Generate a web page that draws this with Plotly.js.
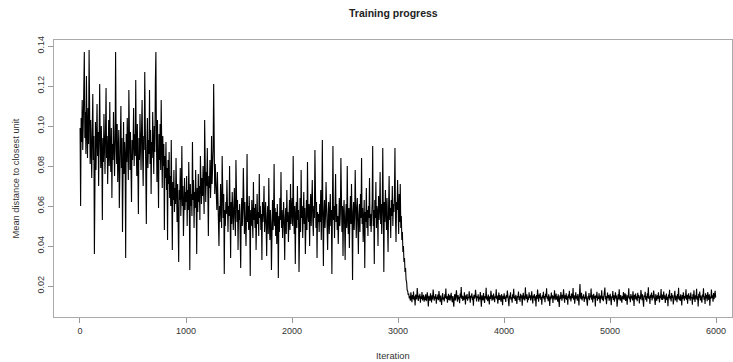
<!DOCTYPE html>
<html>
<head>
<meta charset="utf-8">
<script src="https://cdn.plot.ly/plotly-3.0.1.min.js"></script>
<style>
  html, body { margin: 0; padding: 0; background: #fff; }
  #chart { width: 733px; height: 362px; }
</style>
</head>
<body>
<div id="chart"></div>
<script>
const iterationStart = 1;
const iterationStep = 5;
const meanDistance = [
  // 1 - 246
  0.099, 0.060, 0.104, 0.092, 0.113, 0.088, 0.101, 0.115, 0.137, 0.094, 0.107, 0.086, 0.125, 0.097, 0.084, 0.109, 0.091, 0.138, 0.096, 0.081,
  0.103, 0.088, 0.074, 0.099, 0.116, 0.083, 0.095, 0.036, 0.090, 0.102, 0.078, 0.093, 0.111, 0.085, 0.097, 0.070, 0.089, 0.121, 0.092, 0.079,
  0.100, 0.087, 0.053, 0.094, 0.082, 0.106, 0.091, 0.076, 0.098, 0.119,
  // 251 - 496
  0.084, 0.095, 0.071, 0.090, 0.103, 0.080, 0.112, 0.086, 0.077, 0.099, 0.064, 0.091, 0.083, 0.107, 0.093, 0.075, 0.088, 0.137, 0.095, 0.081,
  0.101, 0.072, 0.087, 0.098, 0.059, 0.090, 0.084, 0.110, 0.079, 0.094, 0.047, 0.089, 0.102, 0.076, 0.092, 0.085, 0.034, 0.096, 0.082, 0.104,
  0.088, 0.073, 0.118, 0.091, 0.078, 0.097, 0.086, 0.062, 0.093, 0.083,
  // 501 - 746
  0.092, 0.109, 0.080, 0.096, 0.085, 0.123, 0.089, 0.075, 0.101, 0.087, 0.056, 0.094, 0.083, 0.106, 0.091, 0.078, 0.099, 0.113, 0.086, 0.070,
  0.095, 0.088, 0.127, 0.082, 0.097, 0.051, 0.090, 0.104, 0.079, 0.093, 0.086, 0.118, 0.081, 0.098, 0.066, 0.092, 0.084, 0.107, 0.089, 0.076,
  0.100, 0.087, 0.122, 0.137, 0.094, 0.072, 0.103, 0.085, 0.059, 0.096,
  // 751 - 996
  0.083, 0.101, 0.078, 0.113, 0.088, 0.069, 0.095, 0.080, 0.091, 0.048,
  0.085, 0.074, 0.092, 0.068, 0.079, 0.043, 0.083, 0.071, 0.087, 0.064,
  0.075, 0.060, 0.093, 0.068, 0.038, 0.072, 0.063, 0.078, 0.057, 0.069,
  0.061, 0.084, 0.066, 0.052, 0.071, 0.059, 0.032, 0.068, 0.063, 0.079, 0.055, 0.066, 0.090, 0.060, 0.070, 0.045, 0.064, 0.074, 0.058, 0.067,
  // 1001 - 1246
  0.062, 0.075, 0.050, 0.068, 0.058, 0.082, 0.065, 0.028, 0.071, 0.060, 0.066, 0.055, 0.092, 0.063, 0.073, 0.049, 0.067, 0.059, 0.078, 0.064,
  0.036, 0.069, 0.057, 0.076, 0.062, 0.070, 0.053, 0.085, 0.066, 0.061,
  0.074, 0.065, 0.080, 0.068, 0.056, 0.103, 0.073, 0.062, 0.077, 0.070, 0.089, 0.067, 0.045, 0.075, 0.069, 0.083, 0.064, 0.072, 0.095, 0.071,
  // 1251 - 1496
  0.076, 0.088, 0.121, 0.074, 0.066, 0.081, 0.070, 0.063, 0.058, 0.077,
  0.055, 0.064, 0.040, 0.060, 0.052, 0.071, 0.057, 0.049, 0.085, 0.059, 0.054, 0.066, 0.026, 0.058, 0.050, 0.062, 0.056, 0.073, 0.053, 0.047,
  0.060, 0.055, 0.080, 0.058, 0.034, 0.062, 0.051, 0.067, 0.056, 0.048, 0.059, 0.069, 0.054, 0.045, 0.083, 0.057, 0.052, 0.063, 0.038, 0.058,
  // 1501 - 1746
  0.053, 0.061, 0.047, 0.029, 0.056, 0.064, 0.050, 0.058, 0.079, 0.054, 0.046, 0.062, 0.055, 0.040, 0.057, 0.086, 0.052, 0.060, 0.048, 0.065,
  0.054, 0.025, 0.058, 0.050, 0.063, 0.056, 0.044, 0.072, 0.053, 0.059, 0.049, 0.061, 0.038, 0.055, 0.066, 0.051, 0.057, 0.045, 0.076, 0.054,
  0.060, 0.048, 0.056, 0.033, 0.062, 0.052, 0.058, 0.070, 0.047, 0.055,
  // 1751 - 1996
  0.062, 0.049, 0.035, 0.055, 0.060, 0.046, 0.074, 0.053, 0.043, 0.058, 0.051, 0.028, 0.056, 0.063, 0.048, 0.054, 0.081, 0.050, 0.059, 0.045,
  0.057, 0.041, 0.061, 0.052, 0.024, 0.055, 0.047, 0.064, 0.053, 0.077, 0.049, 0.058, 0.044, 0.056, 0.062, 0.050, 0.033, 0.054, 0.059, 0.046,
  0.068, 0.052, 0.057, 0.042, 0.055, 0.063, 0.048, 0.071, 0.051, 0.056,
  // 2001 - 2246
  0.064, 0.050, 0.085, 0.057, 0.046, 0.060, 0.031, 0.055, 0.062, 0.049, 0.070, 0.053, 0.058, 0.027, 0.056, 0.064, 0.047, 0.078, 0.054, 0.060,
  0.044, 0.057, 0.067, 0.051, 0.059, 0.036, 0.055, 0.063, 0.048, 0.082, 0.056, 0.052, 0.061, 0.040, 0.058, 0.066, 0.050, 0.057, 0.073, 0.053,
  0.045, 0.060, 0.054, 0.088, 0.056, 0.049, 0.062, 0.034, 0.057, 0.052,
  // 2251 - 2496
  0.056, 0.047, 0.061, 0.052, 0.068, 0.043, 0.058, 0.093, 0.054, 0.030, 0.057, 0.063, 0.049, 0.055, 0.072, 0.051, 0.059, 0.038, 0.056, 0.062,
  0.046, 0.054, 0.066, 0.050, 0.058, 0.026, 0.055, 0.090, 0.053, 0.060, 0.044, 0.057, 0.076, 0.052, 0.061, 0.048, 0.055, 0.041, 0.059, 0.064,
  0.050, 0.056, 0.084, 0.053, 0.047, 0.060, 0.035, 0.057, 0.063, 0.051,
  // 2501 - 2746
  0.033, 0.055, 0.061, 0.049, 0.080, 0.054, 0.046, 0.059, 0.039, 0.056, 0.065, 0.051, 0.071, 0.053, 0.023, 0.057, 0.062, 0.048, 0.055, 0.078,
  0.052, 0.044, 0.058, 0.064, 0.050, 0.036, 0.056, 0.061, 0.047, 0.066, 0.054, 0.084, 0.051, 0.059, 0.042, 0.055, 0.063, 0.029, 0.057, 0.052,
  0.069, 0.049, 0.058, 0.045, 0.060, 0.054, 0.074, 0.050, 0.056, 0.047,
  // 2751 - 2996
  0.055, 0.062, 0.090, 0.050, 0.058, 0.031, 0.063, 0.054, 0.072, 0.049, 0.060, 0.057, 0.040, 0.065, 0.053, 0.059, 0.077, 0.051, 0.061, 0.046,
  0.058, 0.089, 0.055, 0.027, 0.062, 0.052, 0.068, 0.057, 0.048, 0.064, 0.056, 0.037, 0.060, 0.075, 0.053, 0.059, 0.044, 0.063, 0.055, 0.070,
  0.050, 0.061, 0.057, 0.066, 0.089, 0.054, 0.042, 0.062, 0.058, 0.073,
  // 3001 - 3246
  0.058, 0.046, 0.066, 0.052, 0.071, 0.049,
  0.055, 0.043, 0.047, 0.037, 0.040, 0.032, 0.034, 0.027, 0.029, 0.023, 0.022, 0.018, 0.0175, 0.0155,
  0.0162, 0.0138, 0.0150, 0.0127, 0.0168, 0.0143, 0.0119, 0.0155, 0.0136, 0.0172, 0.0129, 0.0148, 0.0103, 0.0157, 0.0140, 0.0133, 0.0190, 0.0146, 0.0125, 0.0152,
  0.0138, 0.0161, 0.0117, 0.0149, 0.0135, 0.0170, 0.0128, 0.0144, 0.0156, 0.0122,
  // 3251 - 3496
  0.0147, 0.0131, 0.0159, 0.0124, 0.0142, 0.0168, 0.0136, 0.0098, 0.0151, 0.0140, 0.0127, 0.0163, 0.0145, 0.0118, 0.0154, 0.0133, 0.0182, 0.0141, 0.0126, 0.0149,
  0.0137, 0.0160, 0.0112, 0.0146, 0.0134, 0.0157, 0.0129, 0.0175, 0.0143, 0.0121, 0.0152, 0.0138, 0.0105, 0.0148, 0.0164, 0.0132, 0.0144, 0.0123, 0.0158, 0.0139,
  0.0187, 0.0135, 0.0150, 0.0116, 0.0145, 0.0161, 0.0130, 0.0153, 0.0126, 0.0142,
  // 3501 - 3746
  0.0166, 0.0137, 0.0119, 0.0150, 0.0134, 0.0096, 0.0147, 0.0159, 0.0128, 0.0143, 0.0178, 0.0139, 0.0122, 0.0155, 0.0133, 0.0146, 0.0114, 0.0162, 0.0141, 0.0195,
  0.0136, 0.0152, 0.0125, 0.0148, 0.0131, 0.0169, 0.0140, 0.0108, 0.0154, 0.0135, 0.0160, 0.0127, 0.0145, 0.0138, 0.0173, 0.0132, 0.0117, 0.0151, 0.0142, 0.0164,
  0.0129, 0.0147, 0.0101, 0.0156, 0.0137, 0.0144, 0.0181, 0.0134, 0.0123, 0.0149,
  // 3751 - 3996
  0.0139, 0.0158, 0.0121, 0.0146, 0.0133, 0.0170, 0.0142, 0.0097, 0.0153, 0.0136, 0.0128, 0.0165, 0.0144, 0.0115, 0.0150, 0.0138, 0.0191, 0.0132, 0.0147, 0.0124,
  0.0157, 0.0140, 0.0108, 0.0149, 0.0135, 0.0176, 0.0143, 0.0126, 0.0154, 0.0131, 0.0162, 0.0137, 0.0119, 0.0148, 0.0141, 0.0184, 0.0134, 0.0152, 0.0111, 0.0145,
  0.0167, 0.0130, 0.0155, 0.0139, 0.0122, 0.0159, 0.0143, 0.0104, 0.0151, 0.0136,
  // 4001 - 4246
  0.0163, 0.0134, 0.0147, 0.0120, 0.0155, 0.0140, 0.0177, 0.0129, 0.0146, 0.0099, 0.0152, 0.0138, 0.0168, 0.0132, 0.0144, 0.0116, 0.0159, 0.0141, 0.0186, 0.0135,
  0.0149, 0.0125, 0.0156, 0.0137, 0.0110, 0.0150, 0.0143, 0.0172, 0.0130, 0.0148, 0.0121, 0.0161, 0.0139, 0.0154, 0.0102, 0.0145, 0.0166, 0.0133, 0.0151, 0.0127,
  0.0193, 0.0142, 0.0136, 0.0158, 0.0118, 0.0147, 0.0131, 0.0169, 0.0140, 0.0153,
  // 4251 - 4496
  0.0128, 0.0145, 0.0174, 0.0137, 0.0113, 0.0152, 0.0141, 0.0160, 0.0126, 0.0148, 0.0098, 0.0155, 0.0135, 0.0182, 0.0143, 0.0122, 0.0157, 0.0139, 0.0165, 0.0131,
  0.0146, 0.0107, 0.0153, 0.0140, 0.0171, 0.0134, 0.0150, 0.0119, 0.0161, 0.0144, 0.0188, 0.0136, 0.0149, 0.0124, 0.0158, 0.0142, 0.0100, 0.0147, 0.0133, 0.0167,
  0.0139, 0.0154, 0.0115, 0.0151, 0.0137, 0.0178, 0.0129, 0.0145, 0.0162, 0.0132,
  // 4501 - 4746
  0.0148, 0.0121, 0.0159, 0.0140, 0.0095, 0.0152, 0.0134, 0.0170, 0.0143, 0.0127, 0.0156, 0.0138, 0.0183, 0.0146, 0.0117, 0.0153, 0.0136, 0.0164, 0.0130, 0.0149,
  0.0106, 0.0157, 0.0141, 0.0176, 0.0133, 0.0150, 0.0123, 0.0162, 0.0139, 0.0145, 0.0190, 0.0131, 0.0154, 0.0112, 0.0147, 0.0168, 0.0137, 0.0151, 0.0126, 0.0160,
  0.0142, 0.0103, 0.0155, 0.0210, 0.0144, 0.0135, 0.0166, 0.0128, 0.0149, 0.0139,
  // 4751 - 4996
  0.0158, 0.0120, 0.0146, 0.0134, 0.0173, 0.0141, 0.0153, 0.0101, 0.0148, 0.0137, 0.0165, 0.0129, 0.0151, 0.0143, 0.0187, 0.0132, 0.0156, 0.0118, 0.0145, 0.0161,
  0.0136, 0.0150, 0.0098, 0.0154, 0.0140, 0.0171, 0.0127, 0.0147, 0.0135, 0.0163, 0.0142, 0.0114, 0.0152, 0.0138, 0.0179, 0.0131, 0.0149, 0.0124, 0.0157, 0.0144,
  0.0192, 0.0133, 0.0150, 0.0109, 0.0146, 0.0167, 0.0139, 0.0155, 0.0126, 0.0143,
  // 5001 - 5246
  0.0161, 0.0135, 0.0104, 0.0149, 0.0141, 0.0175, 0.0130, 0.0154, 0.0122, 0.0146, 0.0168, 0.0137, 0.0152, 0.0096, 0.0145, 0.0159, 0.0133, 0.0184, 0.0140, 0.0127,
  0.0155, 0.0143, 0.0116, 0.0150, 0.0136, 0.0170, 0.0131, 0.0148, 0.0164, 0.0125, 0.0157, 0.0139, 0.0107, 0.0153, 0.0142, 0.0189, 0.0134, 0.0147, 0.0119, 0.0160,
  0.0138, 0.0151, 0.0128, 0.0174, 0.0144, 0.0100, 0.0156, 0.0137, 0.0162, 0.0132,
  // 5251 - 5496
  0.0149, 0.0124, 0.0166, 0.0140, 0.0155, 0.0113, 0.0147, 0.0134, 0.0180, 0.0143, 0.0129, 0.0158, 0.0137, 0.0097, 0.0152, 0.0145, 0.0171, 0.0131, 0.0150, 0.0121,
  0.0163, 0.0139, 0.0194, 0.0135, 0.0148, 0.0110, 0.0156, 0.0142, 0.0167, 0.0128, 0.0153, 0.0138, 0.0177, 0.0133, 0.0146, 0.0105, 0.0159, 0.0141, 0.0126, 0.0154,
  0.0136, 0.0169, 0.0144, 0.0118, 0.0151, 0.0139, 0.0185, 0.0132, 0.0157, 0.0130,
  // 5501 - 5746
  0.0144, 0.0172, 0.0136, 0.0153, 0.0115, 0.0148, 0.0162, 0.0130, 0.0146, 0.0099, 0.0157, 0.0139, 0.0181, 0.0133, 0.0150, 0.0123, 0.0165, 0.0141, 0.0154, 0.0108,
  0.0147, 0.0135, 0.0176, 0.0128, 0.0152, 0.0143, 0.0119, 0.0160, 0.0137, 0.0191, 0.0131, 0.0149, 0.0125, 0.0158, 0.0140, 0.0103, 0.0155, 0.0134, 0.0169, 0.0145,
  0.0127, 0.0150, 0.0138, 0.0183, 0.0132, 0.0156, 0.0112, 0.0148, 0.0163, 0.0136,
  // 5751 - 5996
  0.0151, 0.0126, 0.0167, 0.0139, 0.0145, 0.0106, 0.0158, 0.0133, 0.0178, 0.0142, 0.0120, 0.0154, 0.0137, 0.0186, 0.0130, 0.0149, 0.0098, 0.0161, 0.0141, 0.0172,
  0.0128, 0.0152, 0.0135, 0.0117, 0.0157, 0.0144, 0.0189, 0.0132, 0.0148, 0.0110, 0.0163, 0.0138, 0.0155, 0.0124, 0.0170, 0.0143, 0.0131, 0.0159, 0.0102, 0.0147,
  0.0136, 0.0182, 0.0140, 0.0153, 0.0121, 0.0165, 0.0134, 0.0150, 0.0176, 0.0142
];
const iterations = meanDistance.map((_, i) => iterationStart + i * iterationStep);

const xTicks = [0, 1000, 2000, 3000, 4000, 5000, 6000];
const xTickLabels = ['0', '1000', '2000', '3000', '4000', '5000', '6000'];
const yTicks = [0.02, 0.04, 0.06, 0.08, 0.10, 0.12, 0.14];
const yTickLabels = ['0.02', '0.04', '0.06', '0.08', '0.10', '0.12', '0.14'];

const chartTitle = 'Training progress';
const xTitle = 'Iteration';
const yTitle = 'Mean distance to closest unit';

const FONT = 'Liberation Sans, Arial, sans-serif';

const trace = {
  x: iterations,
  y: meanDistance,
  type: 'scatter',
  mode: 'lines',
  line: { color: '#000000', width: 1.1 },
  hoverinfo: 'x+y'
};

const layout = {
  width: 733,
  height: 362,
  margin: { l: 54, r: 1, t: 40, b: 45 },
  paper_bgcolor: '#ffffff',
  plot_bgcolor: '#ffffff',
  showlegend: false,
  font: { family: FONT, size: 9, color: '#333333' },
  xaxis: {
    range: [-245, 6150],
    tickmode: 'array',
    tickvals: xTicks,
    ticktext: xTickLabels,
    ticks: 'outside',
    ticklen: 5,
    tickwidth: 1,
    tickcolor: '#999999',
    showline: true,
    mirror: true,
    linecolor: '#aaaaaa',
    linewidth: 1,
    showgrid: false,
    zeroline: false,
    tickfont: { family: FONT, size: 9, color: '#333333' }
  },
  yaxis: {
    range: [0.0045, 0.143],
    tickmode: 'array',
    tickvals: yTicks,
    ticktext: yTickLabels,
    tickangle: -90,
    ticks: 'outside',
    ticklen: 5,
    tickwidth: 1,
    tickcolor: '#999999',
    showline: true,
    mirror: true,
    linecolor: '#aaaaaa',
    linewidth: 1,
    showgrid: false,
    zeroline: false,
    tickfont: { family: FONT, size: 9, color: '#333333' }
  },
  annotations: [
    {
      text: '<b>' + chartTitle + '</b>',
      xref: 'paper', yref: 'paper',
      x: 0.5, y: 1.0975,
      xanchor: 'center', yanchor: 'middle',
      showarrow: false,
      font: { family: FONT, size: 10.5, color: '#222222' }
    },
    {
      text: xTitle,
      xref: 'paper', yref: 'paper',
      x: 0.5, y: -0.1408,
      xanchor: 'center', yanchor: 'middle',
      showarrow: false,
      font: { family: FONT, size: 9.3, color: '#333333' }
    },
    {
      text: yTitle,
      xref: 'paper', yref: 'paper',
      x: -0.0575, y: 0.5,
      xanchor: 'center', yanchor: 'middle',
      textangle: -90,
      showarrow: false,
      font: { family: FONT, size: 9.3, color: '#333333' }
    }
  ]
};

Plotly.newPlot('chart', [trace], layout, { staticPlot: true, displayModeBar: false });
</script>
</body>
</html>
